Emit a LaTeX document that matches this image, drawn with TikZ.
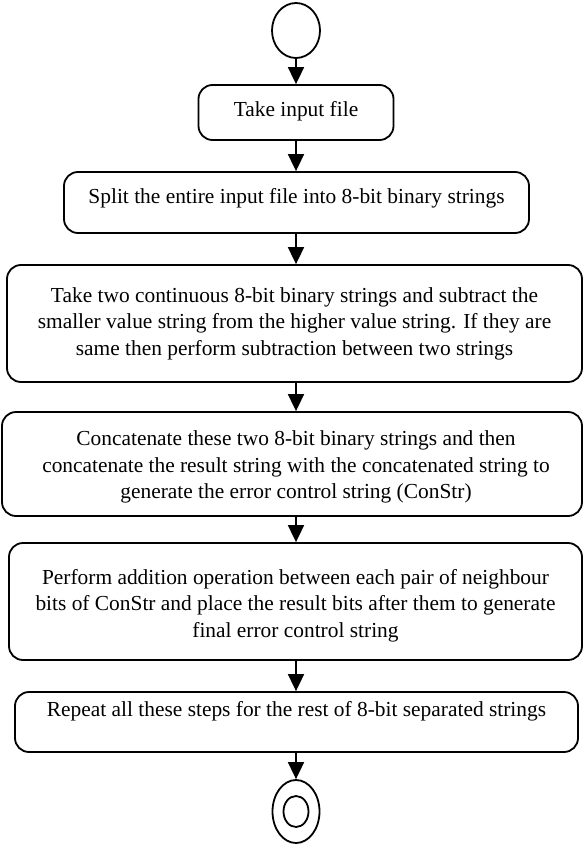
\documentclass[tikz,border=0pt]{standalone}
\usepackage{fontspec}
\setmainfont{Liberation Serif}
\usetikzlibrary{shapes.geometric,arrows.meta}
\begin{document}
\begin{tikzpicture}[x=1pt,y=-1pt,
  every node/.style={font=\fontsize{21.4}{26.5}\selectfont},
  stepbox/.style={draw,line width=1.8pt,rounded corners=14pt,inner sep=0pt},
  term/.style={draw,ellipse,line width=1.8pt,inner sep=0pt},
  flow/.style={line width=1.8pt,-{Triangle[length=17pt,width=16pt]}}]
\useasboundingbox (0,0) rectangle (583,845);
\node[term,minimum width=48,minimum height=55] (start) at (296,30.5) {};
\node[stepbox,minimum width=195,minimum height=55,
  label={[align=center,yshift=1pt]center:Take input file}] (b1) at (296,112.5) {};
\node[stepbox,minimum width=465,minimum height=61,
  label={[align=center,yshift=4.5pt]center:Split the entire input file into 8-bit binary strings}] (b2) at (296.5,202.5) {};
\node[stepbox,minimum width=575,minimum height=117,
  label={[align=center]center:Take two continuous 8-bit binary strings and subtract the\\smaller value string from the higher value string. If they are\\same then perform subtraction between two strings}] (b3) at (294.5,323.5) {};
\node[stepbox,minimum width=580,minimum height=104,
  label={[align=center,xshift=4pt,yshift=-3pt]center:Concatenate these two 8-bit binary strings and then\\concatenate the result string with the concatenated string to\\generate the error control string (ConStr)}] (b4) at (292,464) {};
\node[stepbox,minimum width=573,minimum height=117,
  label={[align=center,yshift=-4pt]center:Perform addition operation between each pair of neighbour\\bits of ConStr and place the result bits after them to generate\\final error control string}] (b5) at (295.5,601.5) {};
\node[stepbox,minimum width=563,minimum height=60,
  label={[align=center,yshift=11pt]center:Repeat all these steps for the rest of 8-bit separated strings}] (b6) at (296.5,722) {};
\node[term,minimum width=47,minimum height=63] (stop) at (296,811.5) {};
\node[term,minimum width=25,minimum height=31] (stopin) at (296,811.5) {};
\draw[flow] (start.south) -- (b1.north);
\draw[flow] (b1.south) -- (b1.south |- b2.north);
\draw[flow] (b1.south |- b2.south) -- (b1.south |- b3.north);
\draw[flow] (b1.south |- b3.south) -- (b1.south |- b4.north);
\draw[flow] (b1.south |- b4.south) -- (b1.south |- b5.north);
\draw[flow] (b1.south |- b5.south) -- (b1.south |- b6.north);
\draw[flow] (b1.south |- b6.south) -- (stop.north);
\end{tikzpicture}
\end{document}
